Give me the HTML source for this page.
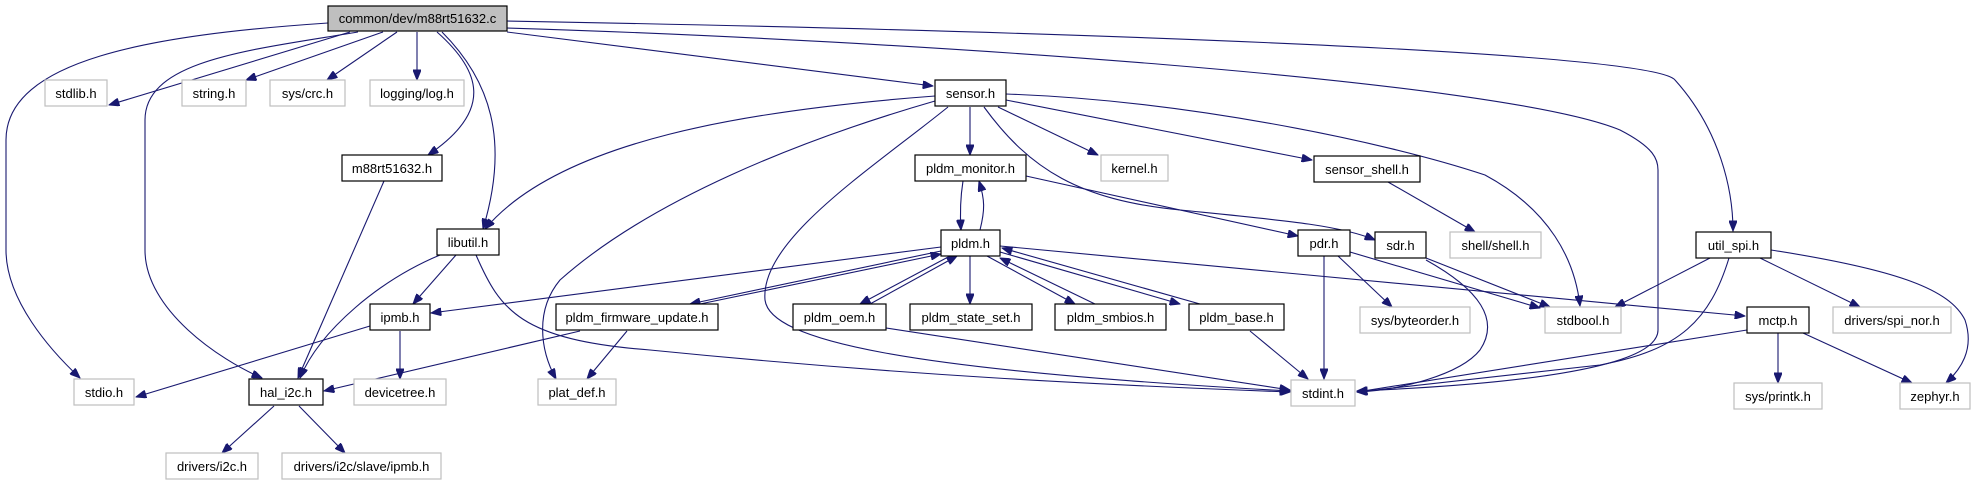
<!DOCTYPE html>
<html><head><meta charset="utf-8"><style>
html,body{margin:0;padding:0;background:#fff;}
svg{display:block;}
text{font-family:"Liberation Sans",Arial,sans-serif;font-size:13px;fill:#000;}
.n{fill:#fff;stroke:#000;stroke-width:1.2;}
.g{fill:#fff;stroke:#bfbfbf;stroke-width:1.2;}
.e{fill:none;stroke:#191970;stroke-width:1.1;}
</style></head><body>
<svg width="1971" height="485" viewBox="0 0 1971 485" xmlns="http://www.w3.org/2000/svg">
<defs><marker id="a" viewBox="0 0 10 8" refX="10" refY="4" markerWidth="11" markerHeight="8" markerUnits="userSpaceOnUse" orient="auto"><path d="M0,0 L10,4 L0,8 z" fill="#191970" stroke="#191970"/></marker></defs>
<g class="e" marker-end="url(#a)">
<path d="M328,23 C150,35 6,60 6,140 L6,250 C6,300 50,350 80,378"/>
<path d="M358,32 C250,50 145,60 145,120 L145,250 C145,310 220,360 262,378"/>
<path d="M350,32 L109,105"/>
<path d="M383,32 L246,80"/>
<path d="M397,32 L327,80"/>
<path d="M417,32 L417,80"/>
<path d="M437,32 C480,70 495,110 428,155"/>
<path d="M442,32 C490,80 510,140 483,229"/>
<path d="M507,32 L933,86"/>
<path d="M507,21 C1000,30 1650,50 1675,80 C1720,130 1733,190 1733,231"/>
<path d="M507,28 C900,40 1500,80 1620,130 C1655,148 1658,160 1658,170 L1658,330 C1658,370 1500,385 1357,391"/>
<path d="M384,181 L298,378"/>
<path d="M440,255 C380,280 320,330 300,378"/>
<path d="M456,255 L413,304"/>
<path d="M476,255 C500,310 520,340 650,350 C900,375 1100,385 1290,392"/>
<path d="M370,326 L136,397"/>
<path d="M400,331 L400,379"/>
<path d="M580,331 L324,391"/>
<path d="M627,331 L587,379"/>
<path d="M274,406 L222,453"/>
<path d="M299,406 L345,453"/>
<path d="M935,96 C750,110 560,140 485,229"/>
<path d="M935,101 C800,140 650,200 560,280 C535,310 540,350 556,379"/>
<path d="M948,107 C870,170 760,240 765,300 C770,340 900,370 1290,391"/>
<path d="M970,107 L970,155"/>
<path d="M998,107 L1098,155"/>
<path d="M1006,100 L1312,160"/>
<path d="M984,107 C1030,170 1080,200 1180,210 C1280,220 1340,225 1375,240"/>
<path d="M1006,94 C1180,100 1380,140 1485,175 C1550,210 1575,260 1580,306"/>
<path d="M963,181 C960,200 960,215 961,230"/>
<path d="M980,230 C985,210 985,200 979,181"/>
<path d="M1026,176 L1298,236"/>
<path d="M941,247 L431,313"/>
<path d="M941,251 L690,304"/>
<path d="M700,304 L941,254"/>
<path d="M950,256 L860,304"/>
<path d="M870,304 L957,256"/>
<path d="M970,256 L970,304"/>
<path d="M987,256 L1075,304"/>
<path d="M1095,304 L1000,258"/>
<path d="M1000,252 L1180,304"/>
<path d="M1200,304 L1002,248"/>
<path d="M1000,246 L1745,316"/>
<path d="M886,328 L1290,390"/>
<path d="M1250,331 L1308,379"/>
<path d="M1324,256 L1324,379"/>
<path d="M1338,256 L1392,307"/>
<path d="M1350,252 L1540,308"/>
<path d="M1426,258 L1550,307"/>
<path d="M1426,260 C1480,290 1500,320 1480,350 C1460,375 1400,390 1357,392"/>
<path d="M1388,182 L1475,232"/>
<path d="M1710,258 L1615,307"/>
<path d="M1729,258 C1710,320 1680,350 1600,365 L1357,392"/>
<path d="M1760,258 L1860,307"/>
<path d="M1771,250 C1900,270 1950,290 1965,320 C1975,350 1960,370 1946,383"/>
<path d="M1747,330 L1357,392"/>
<path d="M1778,333 L1778,383"/>
<path d="M1803,333 L1912,383"/>
</g>
<rect x="328" y="6" width="179" height="25" fill="#bfbfbf" stroke="#000" stroke-width="1.2"/>
<g>
<rect class="g" x="45" y="80" width="62" height="26"/>
<rect class="g" x="182" y="80" width="64" height="26"/>
<rect class="g" x="270" y="80" width="75" height="26"/>
<rect class="g" x="370" y="80" width="94" height="26"/>
<rect class="n" x="935" y="80" width="71" height="26"/>
<rect class="n" x="342" y="155" width="100" height="26"/>
<rect class="n" x="915" y="155" width="111" height="26"/>
<rect class="g" x="1101" y="155" width="67" height="26"/>
<rect class="n" x="1314" y="156" width="106" height="26"/>
<rect class="n" x="437" y="229" width="62" height="26"/>
<rect class="n" x="941" y="230" width="59" height="26"/>
<rect class="n" x="1298" y="230" width="52" height="26"/>
<rect class="n" x="1375" y="232" width="51" height="26"/>
<rect class="g" x="1450" y="232" width="91" height="26"/>
<rect class="n" x="1696" y="232" width="75" height="26"/>
<rect class="n" x="370" y="304" width="60" height="26"/>
<rect class="n" x="556" y="304" width="162" height="26"/>
<rect class="n" x="793" y="304" width="93" height="26"/>
<rect class="n" x="910" y="304" width="122" height="26"/>
<rect class="n" x="1055" y="304" width="111" height="26"/>
<rect class="n" x="1189" y="304" width="95" height="26"/>
<rect class="g" x="1360" y="307" width="110" height="26"/>
<rect class="g" x="1545" y="307" width="76" height="26"/>
<rect class="n" x="1747" y="307" width="62" height="26"/>
<rect class="g" x="1833" y="307" width="118" height="26"/>
<rect class="g" x="74" y="379" width="60" height="26"/>
<rect class="n" x="249" y="379" width="74" height="26"/>
<rect class="g" x="354" y="379" width="92" height="26"/>
<rect class="g" x="538" y="379" width="78" height="26"/>
<rect class="g" x="1291" y="380" width="64" height="26"/>
<rect class="g" x="1734" y="383" width="88" height="26"/>
<rect class="g" x="1900" y="383" width="70" height="26"/>
<rect class="g" x="166" y="453" width="92" height="26"/>
<rect class="g" x="282" y="453" width="159" height="26"/>
</g>
<g text-anchor="middle">
<text x="417.5" y="23">common/dev/m88rt51632.c</text>
<text x="76" y="98">stdlib.h</text>
<text x="214" y="98">string.h</text>
<text x="307.5" y="98">sys/crc.h</text>
<text x="417" y="98">logging/log.h</text>
<text x="970.5" y="98">sensor.h</text>
<text x="392" y="173">m88rt51632.h</text>
<text x="970.5" y="173">pldm_monitor.h</text>
<text x="1134.5" y="173">kernel.h</text>
<text x="1367" y="174">sensor_shell.h</text>
<text x="468" y="247">libutil.h</text>
<text x="970.5" y="248">pldm.h</text>
<text x="1324" y="248">pdr.h</text>
<text x="1400.5" y="250">sdr.h</text>
<text x="1495.5" y="250">shell/shell.h</text>
<text x="1733.5" y="250">util_spi.h</text>
<text x="400" y="322">ipmb.h</text>
<text x="637" y="322">pldm_firmware_update.h</text>
<text x="839.5" y="322">pldm_oem.h</text>
<text x="971" y="322">pldm_state_set.h</text>
<text x="1110.5" y="322">pldm_smbios.h</text>
<text x="1236.5" y="322">pldm_base.h</text>
<text x="1415" y="325">sys/byteorder.h</text>
<text x="1583" y="325">stdbool.h</text>
<text x="1778" y="325">mctp.h</text>
<text x="1892" y="325">drivers/spi_nor.h</text>
<text x="104" y="397">stdio.h</text>
<text x="286" y="397">hal_i2c.h</text>
<text x="400" y="397">devicetree.h</text>
<text x="577" y="397">plat_def.h</text>
<text x="1323" y="398">stdint.h</text>
<text x="1778" y="401">sys/printk.h</text>
<text x="1935" y="401">zephyr.h</text>
<text x="212" y="471">drivers/i2c.h</text>
<text x="361.5" y="471">drivers/i2c/slave/ipmb.h</text>
</g>
</svg>
</body></html>
